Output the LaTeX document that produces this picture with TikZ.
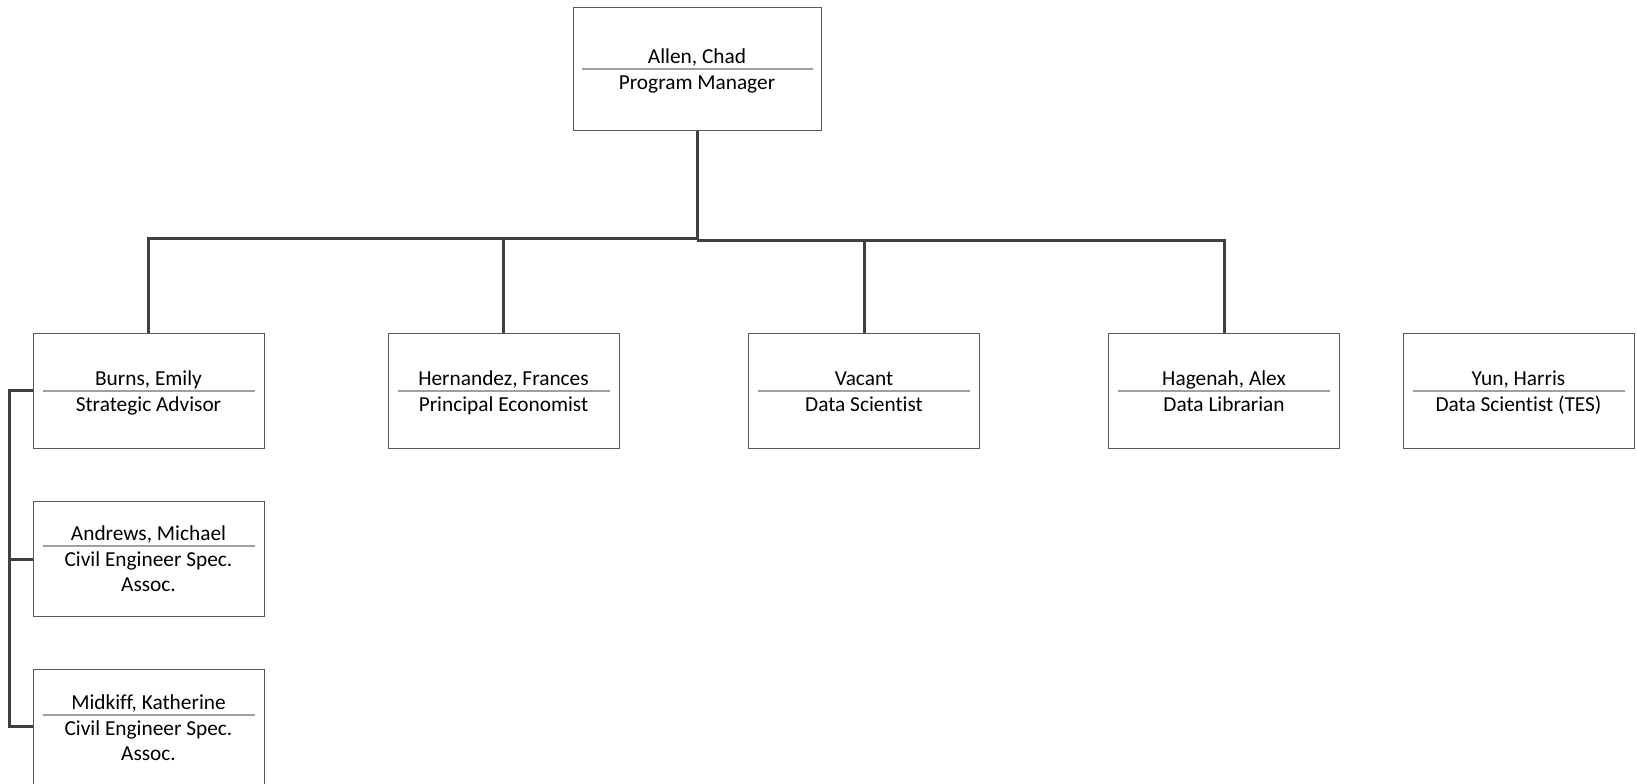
\documentclass[tikz,border=0pt]{standalone}
\usepackage{fontspec}
\setmainfont[Ligatures=NoCommon]{Carlito}
\usetikzlibrary{calc}
\definecolor{boxgray}{HTML}{595959}
\definecolor{sepgray}{HTML}{A0A0A0}
\definecolor{conngray}{HTML}{404040}
\begin{document}
\begin{tikzpicture}[x=0.75pt,y=-0.75pt,
  obox/.style={draw=boxgray,line width=0.75pt,minimum width=173.25pt,minimum height=86.25pt,inner sep=0pt},
  sepline/.style={draw=sepgray,line width=0.9pt},
  conn/.style={draw=conngray,line width=2.25pt},
  txt/.style={font=\fontsize{16}{19}\selectfont,inner sep=0pt,anchor=base,text=black}]
\useasboundingbox (0,0) rectangle (1637,783);
% boxes
\node[obox,minimum width=186pt,minimum height=92.25pt] (top) at (697,68.5) {};
\node[obox] (burns) at (148.5,390.5) {};
\node[obox] (hern) at (503.5,390.5) {};
\node[obox] (vac) at (864,390.5) {};
\node[obox] (hag) at (1224,390.5) {};
\node[obox] (yun) at (1518.5,390.5) {};
\node[obox] (andrews) at (148.5,559) {};
\node[obox] (midkiff) at (148.5,726.5) {};
% separators and texts
\draw[sepline] ($(top.west)+(9,0.5)$) -- ($(top.east)+(-9,0.5)$);
\node[txt] (topn) at ($(top.center)+(0,-5.5)$) {Allen, Chad};
\node[txt] (topt) at ($(top.center)+(0,21)$) {Program Manager};
\foreach \b/\n/\t in {burns/{Burns, Emily}/{Strategic Advisor},hern/{Hernandez, Frances}/{Principal Economist},vac/{Vacant}/{Data Scientist},hag/{Hagenah, Alex}/{Data Librarian},yun/{Yun, Harris}/{Data Scientist (TES)}}{
  \draw[sepline] ($(\b.west)+(10,0.5)$) -- ($(\b.east)+(-10,0.5)$);
  \node[txt] (\b n) at ($(\b.center)+(0,-5.5)$) {\n};
  \node[txt] (\b t) at ($(\b.center)+(0,21)$) {\t};
}
\foreach \b/\n/\d in {andrews/{Andrews, Michael}/0,midkiff/{Midkiff, Katherine}/1.5}{
  \draw[sepline] ($(\b.west)+(10,-13+\d)$) -- ($(\b.east)+(-10,-13+\d)$);
  \node[txt] (\b n) at ($(\b.center)+(0,-19+\d)$) {\n};
  \node[txt] (\b t) at ($(\b.center)+(0,7.5+\d)$) {Civil Engineer Spec.};
  \node[txt] (\b u) at ($(\b.center)+(0,32.5+\d)$) {Assoc.};
}
% connectors
\coordinate (busL) at (697,238);
\coordinate (busR) at (697,240);
\coordinate (lx) at (9,0);
\draw[conn] (top.south) -- (busR);
\draw[conn] (burns.north) |- (busL);
\draw[conn] (hern.north) -- (hern.north |- busL);
\draw[conn] (busR) -| (hag.north);
\draw[conn] (vac.north) -- (vac.north |- busR);
\draw[conn] (burns.west) -| (lx |- midkiff.west) -- (midkiff.west);
\draw[conn] (andrews.west) -- (lx |- andrews.west);
\end{tikzpicture}
\end{document}
